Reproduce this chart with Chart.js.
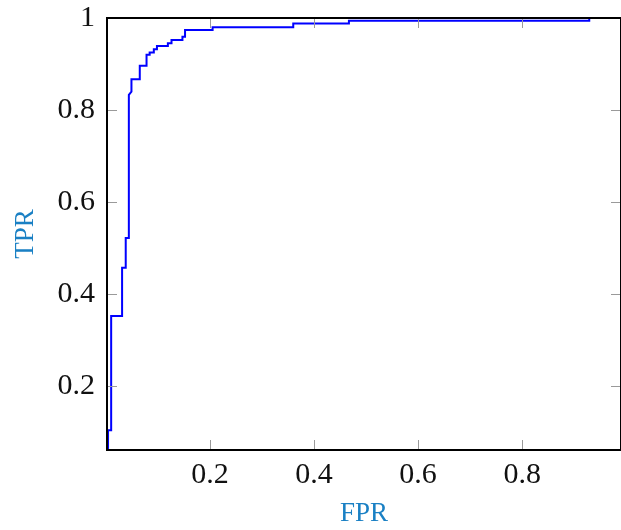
<!DOCTYPE html>
<html>
<head>
<meta charset="utf-8">
<script src="https://cdn.jsdelivr.net/npm/chart.js@4"></script>
<style>
  html, body { margin: 0; padding: 0; background: #fff; }
  #wrap { width: 621px; height: 530px; }
</style>
</head>
<body>
<div id="wrap"><canvas id="rocChart" width="621" height="530"></canvas></div>
<script>
// ROC curve corner points
var fpr = [0.004, 0.004, 0.010, 0.010, 0.031, 0.031, 0.038, 0.038, 0.044, 0.044,
           0.049, 0.049, 0.065, 0.065, 0.078, 0.078, 0.084, 0.084, 0.092, 0.092,
           0.098, 0.098, 0.119, 0.119, 0.126, 0.126, 0.147, 0.147, 0.152, 0.152,
           0.205, 0.205, 0.360, 0.360, 0.467, 0.467, 0.929, 0.929, 1.0];
var tpr = [0.0, 0.104, 0.104, 0.352, 0.352, 0.457, 0.457, 0.522, 0.522, 0.833,
           0.840, 0.867, 0.867, 0.896, 0.896, 0.920, 0.920, 0.925, 0.925, 0.932,
           0.932, 0.939, 0.939, 0.945, 0.945, 0.952, 0.952, 0.959, 0.959, 0.974,
           0.974, 0.980, 0.980, 0.988, 0.988, 0.994, 0.994, 1.0, 1.0];
var xTicks = [0.2, 0.4, 0.6, 0.8];
var yTicks = [0.2, 0.4, 0.6, 0.8, 1];

var points = fpr.map(function(x, i) { return { x: x, y: tpr[i] }; });

var serif = "'Liberation Serif', 'DejaVu Serif', serif";
var titleColor = '#1a80c4';

// pgfplots-like box with inward ticks on all four sides
var boxPlugin = {
  id: 'box',
  afterDraw: function(chart) {
    var ctx = chart.ctx, a = chart.chartArea;
    var xs = chart.scales.x, ys = chart.scales.y;
    var len = 10;
    ctx.save();
    ctx.strokeStyle = '#9a9a9a';
    ctx.lineWidth = 1;
    xTicks.forEach(function(v) {
      var px = Math.round(xs.getPixelForValue(v)) + 0.5;
      ctx.beginPath();
      ctx.moveTo(px, a.bottom); ctx.lineTo(px, a.bottom - len);
      ctx.moveTo(px, a.top); ctx.lineTo(px, a.top + len);
      ctx.stroke();
    });
    yTicks.forEach(function(v) {
      var py = Math.round(ys.getPixelForValue(v)) + 0.5;
      ctx.beginPath();
      ctx.moveTo(a.left, py); ctx.lineTo(a.left + len, py);
      ctx.moveTo(a.right, py); ctx.lineTo(a.right - len, py);
      ctx.stroke();
    });
    ctx.strokeStyle = '#000';
    ctx.lineWidth = 2;
    ctx.strokeRect(a.left, a.top, a.right - a.left, a.bottom - a.top);
    ctx.restore();
  }
};

var ctx = document.getElementById('rocChart').getContext('2d');
var rocChart = new Chart(ctx, {
  type: 'line',
  data: {
    datasets: [{
      data: points,
      borderColor: '#0000ff',
      borderWidth: 2,
      pointRadius: 0,
      fill: false,
      tension: 0
    }]
  },
  options: {
    responsive: false,
    animation: false,
    layout: { padding: { top: 18, right: 0, left: 0, bottom: 0 } },
    plugins: { legend: { display: false }, tooltip: { enabled: false } },
    scales: {
      x: {
        type: 'linear',
        min: 0.002,
        max: 0.99,
        afterBuildTicks: function(s) { s.ticks = xTicks.map(function(v) { return { value: v }; }); },
        afterFit: function(s) { s.height = 80; s.paddingLeft = 0; s.paddingRight = 0; },
        grid: { display: false, drawTicks: false },
        border: { display: false },
        ticks: {
          color: '#111',
          font: { family: serif, size: 30 },
          padding: 7,
          maxRotation: 0,
          callback: function(v) { return String(v); }
        },
        title: {
          display: true,
          text: 'FPR',
          color: titleColor,
          font: { family: serif, size: 27 },
          padding: { top: 2, bottom: 0 }
        }
      },
      y: {
        type: 'linear',
        min: 0.061,
        max: 1,
        afterBuildTicks: function(s) { s.ticks = yTicks.map(function(v) { return { value: v }; }); },
        afterFit: function(s) { s.width = 107; s.paddingTop = 0; s.paddingBottom = 0; },
        grid: { display: false, drawTicks: false },
        border: { display: false },
        ticks: {
          color: '#111',
          font: { family: serif, size: 30 },
          padding: 12,
          callback: function(v) { return String(v); }
        },
        title: {
          display: true,
          text: 'TPR',
          color: titleColor,
          font: { family: serif, size: 27 },
          padding: { top: 10, bottom: 0 }
        }
      }
    }
  },
  plugins: [boxPlugin]
});
</script>
</body>
</html>
